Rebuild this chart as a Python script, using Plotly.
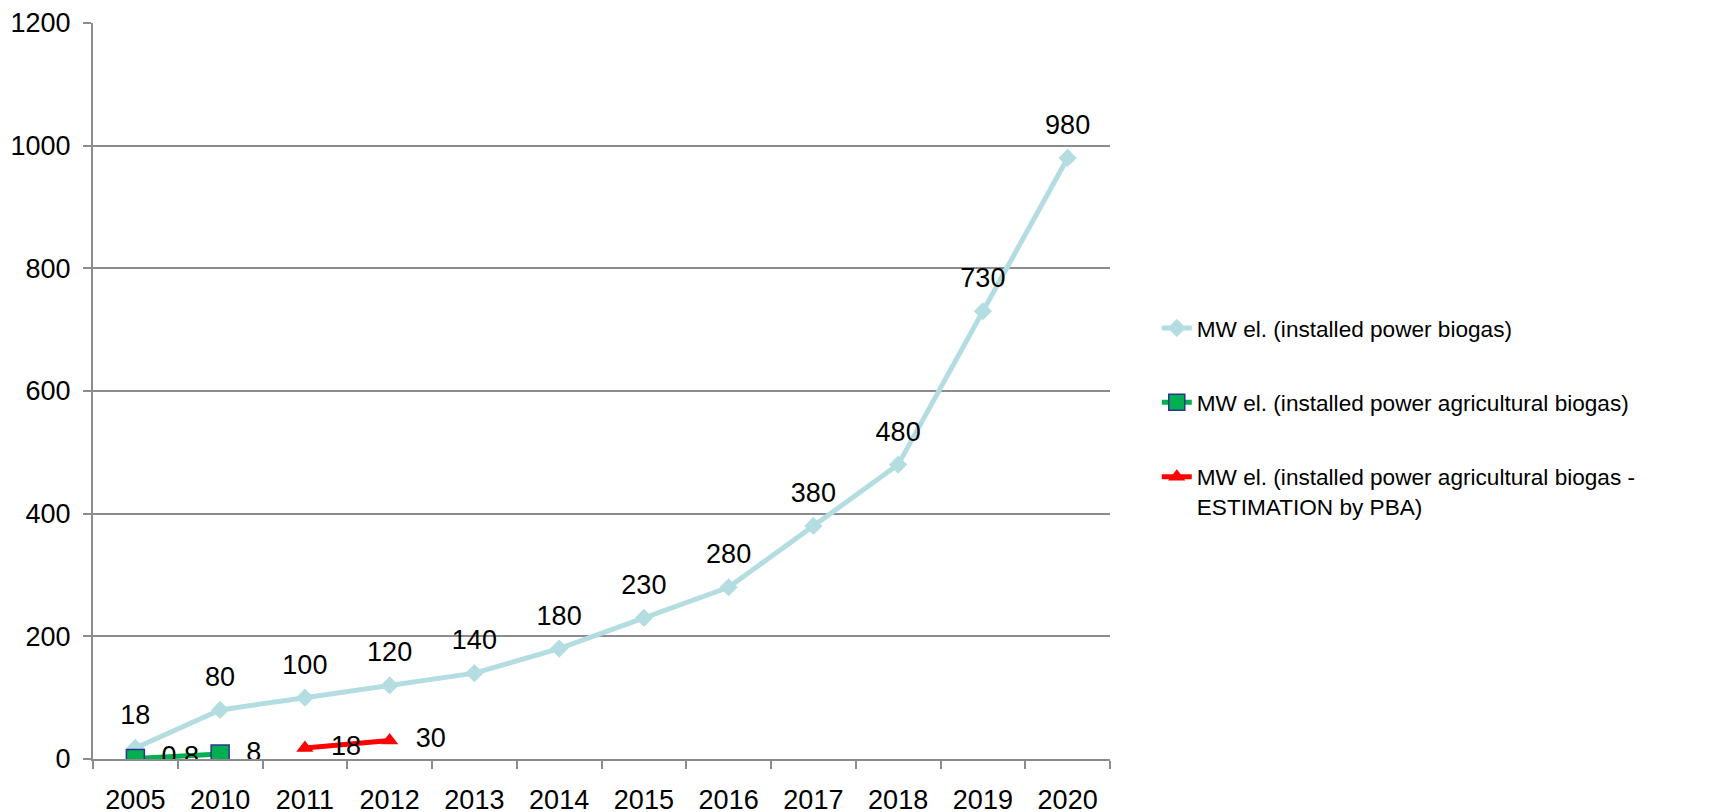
import plotly.graph_objects as go

years = ["2005", "2010", "2011", "2012", "2013", "2014", "2015", "2016", "2017", "2018", "2019", "2020"]
biogas = [18, 80, 100, 120, 140, 180, 230, 280, 380, 480, 730, 980]
biogas_labels = ["18", "80", "100", "120", "140", "180", "230", "280", "380", "480", "730", "980"]
agri_years = ["2005", "2010"]
agri = [0.8, 8]
agri_labels = ["0,8", "8"]
est_years = ["2011", "2012"]
est = [18, 30]
est_labels = ["18", "30"]

names = [
    "MW el. (installed power biogas)",
    "MW el. (installed power agricultural biogas)",
    "MW el. (installed power agricultural biogas -<br>ESTIMATION by PBA)",
]

FONT = "Liberation Sans, Arial, sans-serif"
BLUE = "#B4DDE1"
GREEN = "#00B050"
RED = "#FF0000"
GRAY = "#8C8C8C"
TS = 27

fig = go.Figure()
fig.add_trace(go.Scatter(
    x=years, y=biogas, mode="lines+markers", name=names[0], legendgroup="a",
    line=dict(color=BLUE, width=5),
    marker=dict(symbol="diamond", size=14, color=BLUE),
))
fig.add_trace(go.Scatter(
    x=agri_years, y=agri, mode="lines+markers", name=names[1], legendgroup="b",
    line=dict(color=GREEN, width=5),
    marker=dict(symbol="square", size=18, color=GREEN, line=dict(color="#2E3192", width=1.5)),
))
fig.add_trace(go.Scatter(
    x=est_years, y=est, mode="lines+markers", name=names[2], legendgroup="c",
    line=dict(color=RED, width=5),
    marker=dict(symbol="triangle-up", size=15, color=RED),
))

# data labels (invisible markers only to set label offset)
fig.add_trace(go.Scatter(
    x=years, y=biogas, mode="markers+text", text=biogas_labels, textposition="top center",
    marker=dict(size=26, opacity=0), textfont=dict(family=FONT, size=TS, color="black"),
    showlegend=False, hoverinfo="skip",
))
for xs, ys, ts in ((agri_years, agri, agri_labels), (est_years, est, est_labels)):
    fig.add_trace(go.Scatter(
        x=xs, y=ys, mode="markers+text", text=ts, textposition="middle right",
        marker=dict(size=40, opacity=0), textfont=dict(family=FONT, size=TS, color="black"),
        showlegend=False, hoverinfo="skip",
    ))

fig.update_layout(
    width=1729, height=812,
    margin=dict(l=85, r=627, t=15, b=61),
    paper_bgcolor="white", plot_bgcolor="white",
    font=dict(family=FONT, size=TS, color="black"),
    showlegend=True,
    legend=dict(x=1.046, xanchor="left", y=0.6145, yanchor="top",
                font=dict(family=FONT, size=22.6, color="black"),
                tracegroupgap=42, valign="top", bgcolor="rgba(0,0,0,0)"),
    xaxis=dict(
        type="category", categoryorder="array", categoryarray=years,
        range=[-0.5, len(years) - 0.5], automargin=False,
        showline=True, linecolor=GRAY, linewidth=2,
        ticks="outside", tickson="boundaries", ticklen=8, tickcolor=GRAY, tickwidth=2,
        ticklabelstandoff=16,
        showgrid=False, tickfont=dict(family=FONT, size=TS, color="black"),
    ),
    yaxis=dict(
        range=[0, 1200], dtick=200, tick0=0, automargin=False,
        showline=True, linecolor=GRAY, linewidth=2,
        ticks="outside", ticklen=8, tickcolor=GRAY, tickwidth=2,
        ticklabelstandoff=7,
        showgrid=True, gridcolor=GRAY, gridwidth=1.5,
        zeroline=False,
        tickfont=dict(family=FONT, size=TS, color="black"),
    ),
)

fig.write_html("out.html")
